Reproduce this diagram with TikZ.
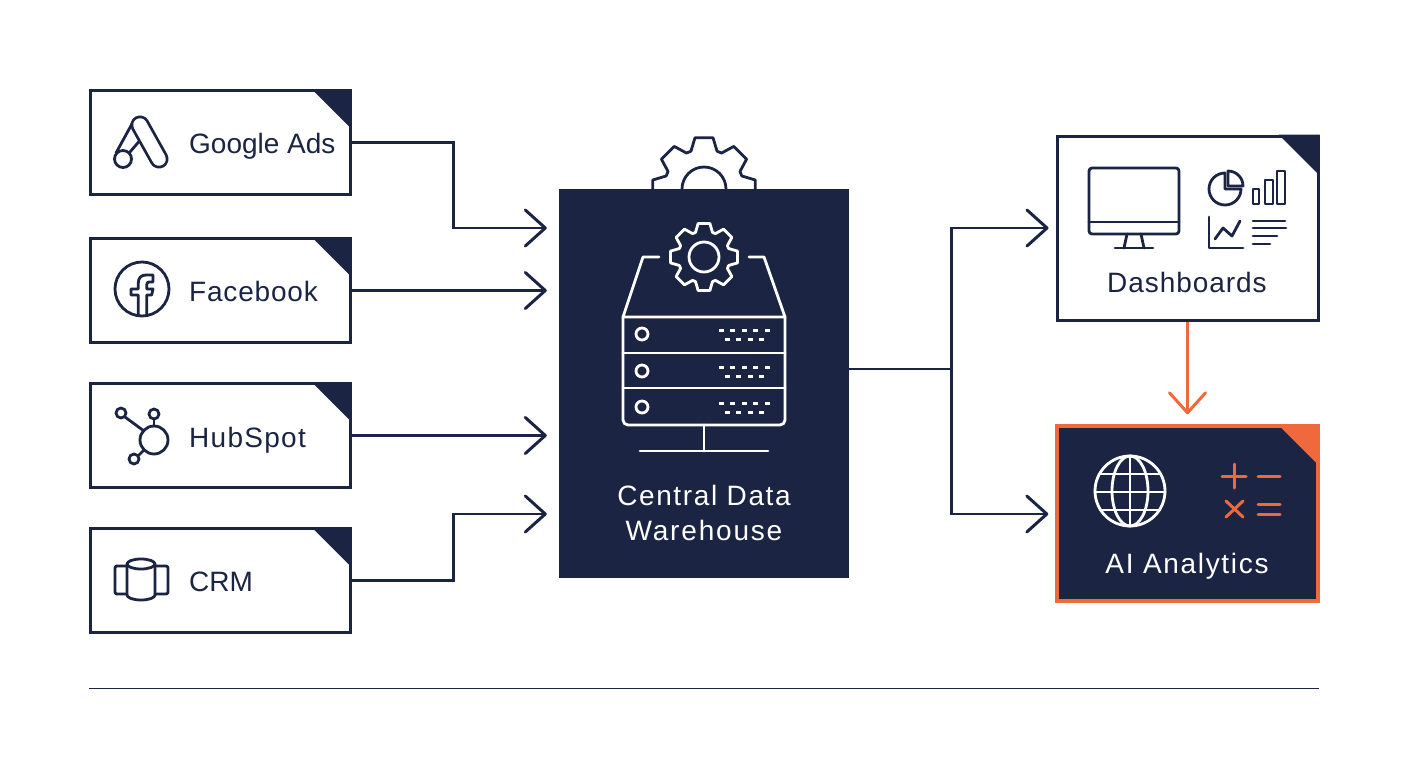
\documentclass[tikz,border=0pt]{standalone}
\usepackage{fontspec}
\setmainfont{Liberation Sans}
\usetikzlibrary{arrows.meta}
\definecolor{navy}{HTML}{1C2444}
\definecolor{flame}{HTML}{F0693C}
\tikzset{
	srcbox/.style={draw=navy,line width=3pt,fill=white,minimum width=260pt,minimum height=104pt,inner sep=0pt},
	label/.style={text=navy,font=\fontsize{28}{32}\selectfont,inner sep=0pt,anchor=base},
	flow/.style={draw=navy,line width=2.8pt,-{Straight Barb[length=20pt,width=36pt,line width=3pt,round]}},
	icon/.style={draw=navy,line width=2.8pt,line join=round,line cap=round},
	iconw/.style={draw=white,line width=2.8pt,line join=round,line cap=round},
	icono/.style={draw=flame,line width=3pt,line cap=round}
}
\newcommand{\lsp}[1]{\addfontfeatures{LetterSpace=#1}}
% gear: centre x, centre y, outer radius, root radius, style
\newcommand{\geartrack}[5]{
	\draw[#5] (#1+#4*cos 71,#2+#4*sin 71) \foreach \a in {90,135,...,405} {
		-- ({#1+#4*cos(\a-19)},{#2+#4*sin(\a-19)}) -- ({#1+#3*cos(\a-10)},{#2+#3*sin(\a-10)})
		-- ({#1+#3*cos(\a+10)},{#2+#3*sin(\a+10)}) -- ({#1+#4*cos(\a+19)},{#2+#4*sin(\a+19)})} -- cycle;
}
\begin{document}
\begin{tikzpicture}[x=1pt,y=1pt,yscale=-1]
	\useasboundingbox (0,0) rectangle (1408,768);

	% gear behind the warehouse
	\begin{scope}
		\clip (630,120) rectangle (780,189);
		\geartrack{704}{189}{52}{40}{icon}
		\draw[icon] (704,189) circle[radius=22];
	\end{scope}

	\node[srcbox] (gads) at (220,142.5) {};
	\node[srcbox] (fb) at (220,290.5) {};
	\node[srcbox] (hub) at (220,435.5) {};
	\node[srcbox] (crm) at (220,580.5) {};
	\node[fill=navy,minimum width=290pt,minimum height=389pt,inner sep=0pt] (wh) at (704,383.5) {};
	\node[srcbox,minimum width=261pt,minimum height=184pt] (dash) at (1187.5,228) {};
	\node[srcbox,draw=flame,line width=3.4pt,fill=navy,minimum width=261pt,minimum height=175pt] (ai) at (1187.5,513.5) {};

	\fill[navy] (gads.north east) -- ++(-40,0) -- ++(40,40) -- cycle;
	\fill[navy] (fb.north east) -- ++(-40,0) -- ++(40,40) -- cycle;
	\fill[navy] (hub.north east) -- ++(-40,0) -- ++(40,40) -- cycle;
	\fill[navy] (crm.north east) -- ++(-40,0) -- ++(40,40) -- cycle;
	\fill[navy] (dash.north east) -- ++(-41,0) -- ++(41,41) -- cycle;
	\fill[flame] (ai.north east) -- ++(-42,0) -- ++(42,42) -- cycle;

	\node[label,anchor=base west] (gadstxt) at (189,153.5) {Google Ads};
	\node[label,anchor=base west] (fbtxt) at (189,301) {\lsp{2.9}Facebook};
	\node[label,anchor=base west] (hubtxt) at (189,447) {\lsp{4.6}HubSpot};
	\node[label,anchor=base west] (crmtxt) at (189,591.5) {CRM};
	\node[label,text=white] (whtxta) at (704,505) {\lsp{5.8}Central Data};
	\node[label,text=white] (whtxtb) at (704,540) {\lsp{6.5}Warehouse};
	\node[label] (dashtxt) at (1187,292.5) {\lsp{3.4}Dashboards};
	\node[label,text=white] (aitxt) at (1187,573.5) {\lsp{6}AI Analytics};

	% connectors
	\draw[flow,shorten >=12pt] (gads.east) -- ++(102,0) |- (wh.west |- 0,228);
	\draw[flow,shorten >=12pt] (fb.east) -- (wh.west |- fb.east);
	\draw[flow,shorten >=12pt] (hub.east) -- (wh.west |- hub.east);
	\draw[flow,shorten >=12pt] (crm.east) -- ++(102,0) |- (wh.west |- 0,514);
	\draw[flow,shorten >=7pt] (wh.east |- 0,369) -- ++(102,0) |- (dash.west);
	\draw[flow,shorten >=7pt] (wh.east |- 0,369) -- ++(102,0) |- (ai.west |- 0,514);
	\draw[flow,draw=flame,shorten >=10pt] (dash.south) -- (ai.north);

	% google ads
	\draw[icon] (123,159) circle[radius=8.5];
	\draw[icon] (116,153) -- (133,122);
	\draw[icon] (130,152) -- (142,138);
	\draw[icon,double=white,double distance=13.5pt] (140,125) -- (159,159);
	% facebook
	\draw[icon] (142,289) circle[radius=27];
	\draw[icon,line cap=butt] (138.3,315) -- (138.3,295) -- (131,295) -- (131,289) -- (138.3,289) -- (138.3,283) .. controls (138.3,278) and (141,275) .. (146,275) -- (153,275) -- (153,282) -- (149,282) .. controls (147.5,282) and (146.7,283) .. (146.7,285) -- (146.7,289) -- (153,289) -- (151.7,295) -- (146.7,295) -- (146.7,315);
	% hubspot
	\draw[icon] (154,440) circle[radius=14];
	\draw[icon] (121,413) circle[radius=5];
	\draw[icon] (154,414) circle[radius=5];
	\draw[icon] (134,459) circle[radius=5];
	\draw[icon] (125,417) -- (144,431);
	\draw[icon] (154,419) -- (154,426);
	\draw[icon] (138,456) -- (144,450);
	% crm
	\draw[icon,rounded corners=2pt] (127,566) -- (115,566) -- (115,594) -- (127,594);
	\draw[icon,rounded corners=2pt] (155,566) -- (168,566) -- (168,594) -- (155,594);
	\draw[icon] (127,564) -- (127,595) arc (180:0:14 and 5) -- (155,564);
	\draw[icon] (141,564) ellipse[x radius=14,y radius=5];

	% warehouse icon
	\geartrack{704}{257}{34}{26}{iconw}
	\draw[iconw] (704,257) circle[radius=15];
	\draw[iconw] (659,257) -- (643,257) -- (623,317) -- (785,317) -- (764,257) -- (749,257);
	\draw[iconw,rounded corners=5pt] (623,317) -- (623,425) -- (785,425) -- (785,317);
	\draw[iconw] (623,353) -- (785,353);
	\draw[iconw] (623,388) -- (785,388);
	\foreach \y in {334,371,407} {
		\draw[iconw] (642,\y) circle[radius=6];
		\foreach \x in {721,732,744,755,767} \fill[white] (\x-2.5,\y-5.5) rectangle (\x+2.5,\y-2.5);
		\foreach \x in {727,738,750,761} \fill[white] (\x-2.5,\y+3.5) rectangle (\x+2.5,\y+6.5);
	}
	\draw[iconw] (704,425) -- (704,451);
	\draw[iconw] (640,451) -- (768,451);

	% dashboard icons
	\draw[icon,rounded corners=3pt] (1089,168) rectangle (1179,234);
	\draw[icon] (1089,222) -- (1179,222);
	\draw[icon] (1127,234) -- (1124,248);
	\draw[icon] (1141,234) -- (1144,248);
	\draw[icon] (1115,248) -- (1153,248);
	\draw[icon] (1225,173) arc (-90:-360:16) -- (1225,189) -- cycle;
	\draw[icon] (1228,171) arc (-90:0:15) -- (1228,186) -- cycle;
	\draw[icon] (1253,189) rectangle (1259,204);
	\draw[icon] (1265,180) rectangle (1273,204);
	\draw[icon] (1277,171) rectangle (1285,204);
	\draw[icon] (1209,217) -- (1209,248) -- (1243,248);
	\draw[icon] (1215,239) -- (1223,228) -- (1232,236) -- (1240,221);
	\draw[icon] (1253,221) -- (1285,221);
	\draw[icon] (1253,228) -- (1286,228);
	\draw[icon] (1253,236) -- (1277,236);
	\draw[icon] (1253,244) -- (1270,244);

	% ai icons
	\draw[iconw] (1130,491) circle[radius=35];
	\draw[iconw] (1130,491) ellipse[x radius=18,y radius=35];
	\draw[iconw] (1130,456) -- (1130,526);
	\draw[iconw] (1100,474) -- (1160,474);
	\draw[iconw] (1095,492) -- (1165,492);
	\draw[iconw] (1100,510) -- (1160,510);
	\draw[icono] (1222,476) -- (1246,476);
	\draw[icono] (1234,464) -- (1234,488);
	\draw[icono] (1258,476) -- (1280,476);
	\draw[icono] (1226,501) -- (1243,517);
	\draw[icono] (1243,501) -- (1226,517);
	\draw[icono] (1258,504) -- (1280,504);
	\draw[icono] (1258,514) -- (1280,514);

	% rule under the chart
	\draw[navy,line width=1pt] (89,688) -- (1319,688);
\end{tikzpicture}
\end{document}
